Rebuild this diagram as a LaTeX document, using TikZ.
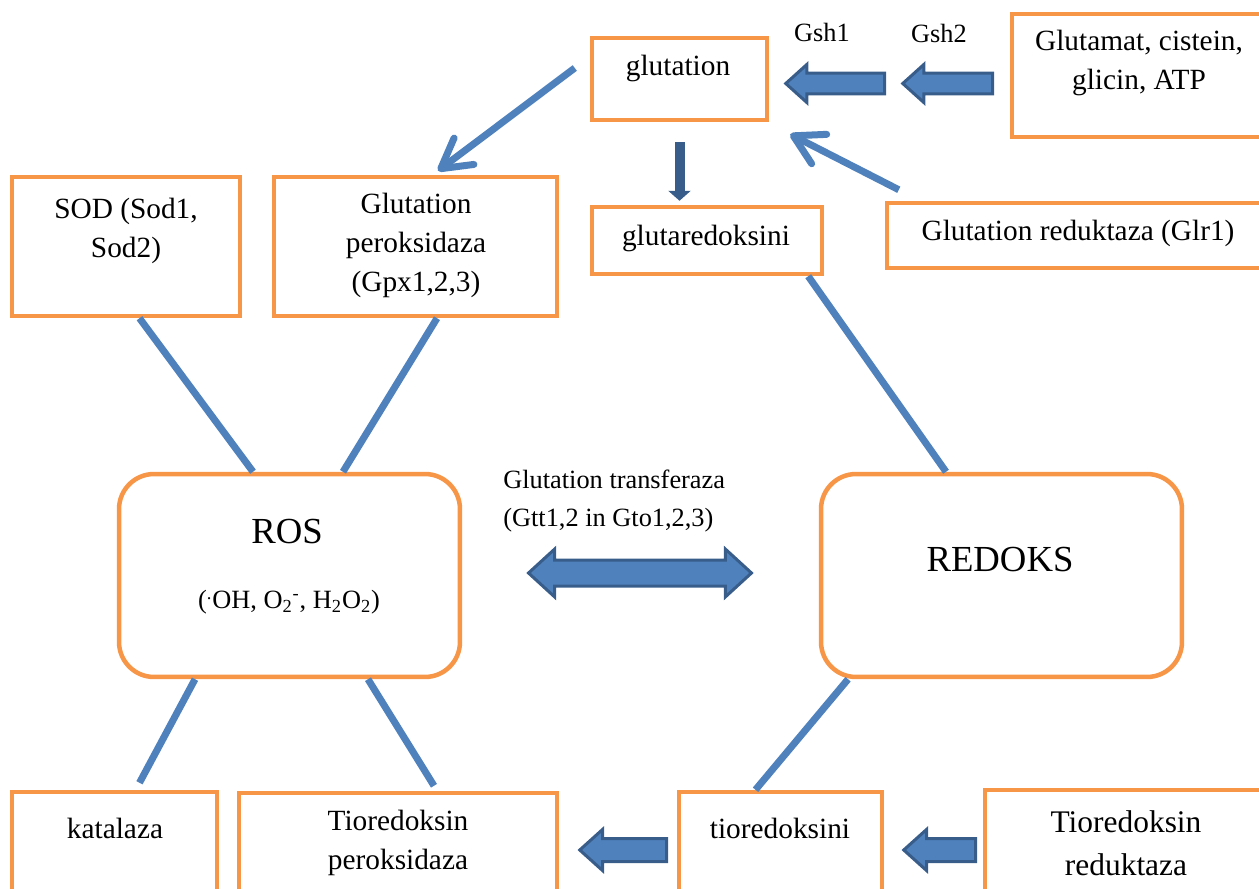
\documentclass[tikz,border=0pt]{standalone}
\usepackage{fontspec}
\setmainfont{Liberation Serif}
\usetikzlibrary{arrows.meta,shapes.arrows}
\definecolor{boxorange}{HTML}{F79646}
\definecolor{linkblue}{HTML}{4F81BD}
\definecolor{arrowdark}{HTML}{385D8A}

\begin{document}
\begin{tikzpicture}[x=0.02cm,y=-0.02cm]
\tikzstyle{box}=[draw=boxorange, line width=0.09cm, rectangle, inner sep=0pt]
\tikzstyle{roundbox}=[box, rounded corners=0.7cm]
\tikzstyle{txt}=[font=\fontsize{16.7}{22.2}\selectfont, align=center, inner sep=0pt]
\tikzstyle{smalltxt}=[font=\fontsize{15}{21.6}\selectfont, align=left, inner sep=0pt]
\tikzstyle{bigtxt}=[font=\fontsize{20.9}{25}\selectfont, inner sep=0pt]
\tikzstyle{link}=[draw=linkblue, line width=0.14cm]
\tikzstyle{pointer}=[link, -{Straight Barb[length=0.58cm, width=0.66cm, round]}]
\tikzstyle{darrow}=[draw=arrowdark, line width=0.2cm, -{Triangle[length=0.2cm, width=0.44cm]}]
\tikzstyle{blockarrow}=[single arrow, draw=arrowdark, fill=linkblue, line width=0.06cm, inner xsep=0pt, inner ysep=0.18cm, single arrow head extend=0.17cm, single arrow tip angle=84, shape border rotate=180]
\tikzstyle{dblarrow}=[double arrow, draw=arrowdark, fill=linkblue, line width=0.06cm, inner xsep=0pt, inner ysep=0.23cm, double arrow head extend=0.22cm, double arrow tip angle=85]

\useasboundingbox (0,0) rectangle (1259,889);
\clip (0,0) rectangle (1259,889);

% Boxes
\node[box, minimum width=3.5cm, minimum height=1.64cm] (glut) at (679.5,79) {};
\node[box, minimum width=5.26cm, minimum height=2.46cm] (gcat) at (1143.5,75.5) {};
\node[box, minimum width=4.56cm, minimum height=2.78cm] (sod) at (126,246.5) {};
\node[box, minimum width=5.66cm, minimum height=2.78cm] (gpx) at (415.5,246.5) {};
\node[box, minimum width=4.6cm, minimum height=1.34cm] (gred) at (707,240.5) {};
\node[box, minimum width=7.76cm, minimum height=1.3cm] (glr) at (1081,235.5) {};
\node[roundbox, minimum width=6.82cm, minimum height=4.06cm] (ros) at (289.5,575.5) {};
\node[roundbox, minimum width=7.22cm, minimum height=4.06cm] (redoks) at (1001.5,575.5) {};
\node[box, minimum width=4.1cm, minimum height=2.16cm] (kat) at (114.5,846) {};
\node[box, minimum width=6.36cm, minimum height=2.14cm] (tperox) at (398,846.5) {};
\node[box, minimum width=4.06cm, minimum height=2.16cm] (tiored) at (780.5,846) {};
\node[box, minimum width=5.8cm, minimum height=2.2cm] (tred) at (1130,845) {};

% Texts
\node[txt] (glut-t) at (678,68) {glutation};
\node[txt] (gcat-t) at (1139,63) {Glutamat, cistein,\\glicin, ATP};
\node[smalltxt] (gsh1) at (822,32) {Gsh1};
\node[smalltxt] (gsh2) at (939,33) {Gsh2};
\node[txt] (sod-t) at (126,231) {SOD (Sod1,\\Sod2)};
\node[txt] (gpx-t) at (416,245) {Glutation\\peroksidaza\\(Gpx1,2,3)};
\node[txt] (gred-t) at (706,238) {glutaredoksini};
\node[txt] (glr-t) at (1078,233) {Glutation reduktaza (Glr1)};
\node[smalltxt, anchor=west] (gst) at (503,501) {Glutation transferaza\\(Gtt1,2 in Gto1,2,3)};
\node[bigtxt] (ros-t) at (287,532) {ROS};
\node[smalltxt] (ros-f) at (289,602) {(\textsuperscript{.}OH, O\textsubscript{2}\textsuperscript{-}, H\textsubscript{2}O\textsubscript{2})};
\node[bigtxt] (redoks-t) at (1000,560) {REDOKS};
\node[txt] (kat-t) at (115,828) {katalaza};
\node[txt] (tperox-t) at (398,842.5) {Tioredoksin\\peroksidaza};
\node[txt] (tiored-t) at (780,828) {tioredoksini};
\node[txt, font=\fontsize{17.9}{24.4}\selectfont] (tred-t) at (1126,843.5) {Tioredoksin\\reduktaza};

% Links
\draw[link] ([xshift=0.27cm]sod.south) -- ([xshift=-0.73cm]ros.north);
\draw[link] ([xshift=0.43cm]gpx.south) -- ([xshift=1.07cm]ros.north);
\draw[link] ([xshift=-0.32cm]gred.south east) -- ([xshift=-1.11cm]redoks.north);
\draw[link] ([xshift=-1.89cm]ros.south) -- ([xshift=0.5cm, yshift=0.14cm]kat.north);
\draw[link] ([xshift=1.57cm]ros.south) -- ([xshift=0.72cm, yshift=0.1cm]tperox.north);
\draw[link] ([xshift=-3.07cm]redoks.south) -- ([xshift=-0.5cm]tiored.north);

% Arrows
\draw[pointer] ([xshift=-0.3cm, yshift=0.22cm]glut.west) -- ([xshift=0.45cm, yshift=0.08cm]gpx.north);
\draw[pointer] ([xshift=0.28cm, yshift=0.22cm]glr.north west) -- ([xshift=0.42cm, yshift=-0.24cm]glut.south east);
\draw[darrow] ([yshift=-0.4cm]glut.south) -- ([yshift=0.08cm]glut.south |- gred.north);

% Block arrows
\node[blockarrow, minimum height=1.98cm, anchor=tip] (gsh1arr) at (783.5,83.5) {};
\node[blockarrow, minimum height=1.8cm, anchor=tip] (gsh2arr) at (900.5,83.5) {};
\node[blockarrow, minimum height=1.74cm, inner ysep=0.2cm, single arrow head extend=0.18cm, anchor=tip] (tpxarr) at (577.5,850) {};
\node[blockarrow, minimum height=1.44cm, inner ysep=0.2cm, single arrow head extend=0.18cm, anchor=tip] (tredarr) at (901.5,850) {};
\node[dblarrow, minimum height=4.46cm] (gstarr) at (640,573) {};
\end{tikzpicture}
\end{document}
